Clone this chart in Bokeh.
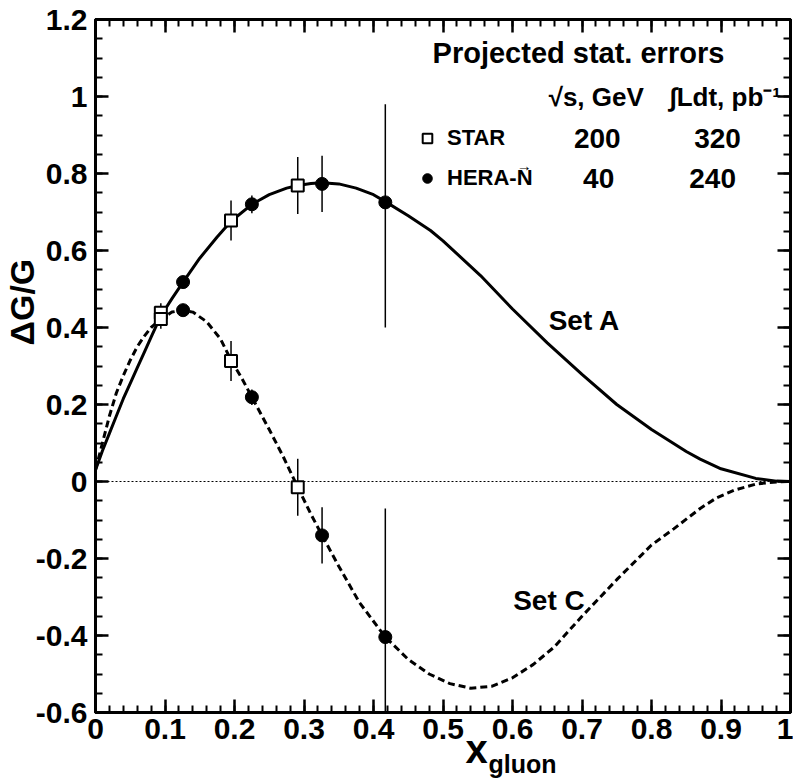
import numpy as np
from bokeh.plotting import figure
from bokeh.models import (FixedTicker, CustomJSTickFormatter, LinearAxis, Label,
                          Span, Legend, LegendItem, Title)
from bokeh.embed import file_html
from bokeh.resources import INLINE

# ---------------- data ----------------
set_a_x = [0, 0.01, 0.02, 0.03, 0.04, 0.05, 0.06, 0.07, 0.08, 0.094, 0.11, 0.126,
           0.15, 0.175, 0.195, 0.225, 0.25, 0.275, 0.291, 0.31, 0.326, 0.35, 0.375,
           0.4, 0.417, 0.45, 0.482, 0.5, 0.554, 0.6, 0.65, 0.7, 0.75, 0.8, 0.85,
           0.87, 0.9, 0.95, 0.98, 1.0]
set_a_y = [0.03, 0.08, 0.125, 0.17, 0.215, 0.255, 0.295, 0.335, 0.375, 0.43, 0.475, 0.518,
           0.58, 0.635, 0.676, 0.72, 0.745, 0.762, 0.769, 0.774, 0.776, 0.773, 0.762,
           0.745, 0.727, 0.69, 0.652, 0.625, 0.535, 0.448, 0.36, 0.278, 0.2, 0.135, 0.078,
           0.058, 0.033, 0.008, 0.001, 0.0]

set_c_x = [0, 0.01, 0.02, 0.03, 0.04, 0.05, 0.06, 0.07, 0.08, 0.094, 0.11, 0.126, 0.14,
           0.16, 0.18, 0.195, 0.21, 0.225, 0.25, 0.27, 0.291, 0.31, 0.326, 0.35, 0.38,
           0.417, 0.45, 0.48, 0.51, 0.54, 0.57, 0.6, 0.63, 0.66, 0.7, 0.75, 0.8, 0.832,
           0.87, 0.894, 0.92, 0.952, 0.98, 1.0]
set_c_y = [0.03, 0.1, 0.17, 0.23, 0.275, 0.315, 0.35, 0.377, 0.4, 0.422, 0.44, 0.445, 0.44,
           0.415, 0.37, 0.315, 0.27, 0.219, 0.135, 0.065, -0.015, -0.085, -0.14, -0.22, -0.315,
           -0.404, -0.462, -0.5, -0.525, -0.537, -0.532, -0.51, -0.475, -0.43, -0.35, -0.255,
           -0.165, -0.123, -0.07, -0.042, -0.022, -0.006, -0.001, 0.0]

star_x = [0.094, 0.195, 0.291]
star_a_y = [0.438, 0.678, 0.769]
star_c_y = [0.422, 0.313, -0.015]
star_err = [0.025, 0.052, 0.074]

hera_x = [0.126, 0.225, 0.326, 0.417]
hera_a_y = [0.518, 0.720, 0.773, 0.725]
hera_c_y = [0.445, 0.219, -0.140, -0.404]
hera_err_up = [0.01, 0.023, 0.073, 0.255]
hera_err_dn = [0.01, 0.023, 0.073, 0.325]
hera_c_err_up = [0.01, 0.02, 0.073, 0.334]
hera_c_err_dn = [0.01, 0.02, 0.073, 0.334]

x_ticks = [0, 0.1, 0.2, 0.3, 0.4, 0.5, 0.6, 0.7, 0.8, 0.9, 1.0]
y_ticks = [-0.6, -0.4, -0.2, 0, 0.2, 0.4, 0.6, 0.8, 1.0, 1.2]
x_minor = [round(i * 0.02, 2) for i in range(51)]
y_minor = [round(-0.6 + i * 0.05, 2) for i in range(37)]

FONT = "Liberation Sans"

# ---------------- figure ----------------
p = figure(width=793, height=782, x_range=(0, 1), y_range=(-0.6, 1.2),
           output_backend="svg", toolbar_location=None,
           min_border_left=95, min_border_right=3, min_border_top=19, min_border_bottom=70)
p.xaxis.visible = False
p.yaxis.visible = False
p.grid.visible = False
p.outline_line_color = "black"
p.outline_line_width = 3
p.background_fill_color = "white"
p.border_fill_color = "white"

fmt = CustomJSTickFormatter(code="return (Math.round(tick*10)/10).toString();")
blank = CustomJSTickFormatter(code="return '';")


def make_axis(ticks, minor, formatter, labelled):
    ax = LinearAxis(ticker=FixedTicker(ticks=ticks, minor_ticks=minor), formatter=formatter)
    ax.axis_line_width = 3
    ax.major_tick_line_width = 2.5
    ax.minor_tick_line_width = 2
    ax.major_tick_in = 13
    ax.major_tick_out = 0
    ax.minor_tick_in = 7
    ax.minor_tick_out = 0
    ax.major_label_text_font = FONT
    ax.major_label_text_font_style = "bold"
    ax.major_label_text_font_size = "30px"
    ax.major_label_text_color = "black"
    if not labelled:
        ax.major_label_standoff = 0
        ax.major_label_text_font_size = "1px"
    return ax


xax = make_axis(x_ticks, x_minor, fmt, True)
xax.major_label_standoff = 6
p.add_layout(xax, "below")

yax = make_axis(y_ticks, y_minor, fmt, True)
yax.major_label_standoff = 8
p.add_layout(yax, "left")

p.add_layout(make_axis(x_ticks, x_minor, blank, False), "above")
p.add_layout(make_axis(y_ticks, y_minor, blank, False), "right")


def title(text, size, place, align, offset, standoff):
    t = Title(text=text, text_font=FONT, text_font_style="bold", text_font_size=size,
              text_color="black", align=align, offset=offset, standoff=standoff,
              vertical_align="middle")
    p.add_layout(t, place)


# axis titles (x with subscript "gluon")
title("\u0394G/G", "34px", "left", "left", 367, -19)
title("x", "40px", "below", "left", 370, -31)
title("gluon", "25px", "below", "left", 393, -16)

# zero line
p.add_layout(Span(location=0, dimension="width", line_color="black",
                  line_width=1, line_dash="2 2"))

# curves
p.line(set_a_x, set_a_y, line_color="black", line_width=3)
p.line(set_c_x, set_c_y, line_color="black", line_width=3, line_dash="7 4")

# error bars
sx = np.array(star_x)
se = np.array(star_err)
p.segment(sx, np.array(star_a_y) - se, sx, np.array(star_a_y) + se, line_color="black", line_width=1.5)
p.segment(sx, np.array(star_c_y) - se, sx, np.array(star_c_y) + se, line_color="black", line_width=1.5)
hx = np.array(hera_x)
p.segment(hx, np.array(hera_a_y) - np.array(hera_err_dn), hx, np.array(hera_a_y) + np.array(hera_err_up),
          line_color="black", line_width=1.5)
p.segment(hx, np.array(hera_c_y) - np.array(hera_c_err_dn), hx, np.array(hera_c_y) + np.array(hera_c_err_up),
          line_color="black", line_width=1.5)

# markers
star_r = p.scatter(star_x, star_a_y, marker="square", size=12, fill_color="white",
                   line_color="black", line_width=2)
p.scatter(star_x, star_c_y, marker="square", size=12, fill_color="white",
          line_color="black", line_width=2)
hera_r = p.scatter(hera_x, hera_a_y, marker="circle", size=13, fill_color="black", line_color="black")
p.scatter(hera_x, hera_c_y, marker="circle", size=13, fill_color="black", line_color="black")

legend = Legend(items=[LegendItem(label="STAR", renderers=[star_r]),
                       LegendItem(label="HERA-N", renderers=[hera_r])],
                location=(320, 521), padding=0, margin=0, spacing=14,
                glyph_width=24, glyph_height=26, label_height=26, label_standoff=8,
                label_text_font=FONT, label_text_font_style="bold", label_text_font_size="22px",
                label_text_color="black",
                background_fill_alpha=0, border_line_alpha=0)
p.add_layout(legend)


def lab(x, y, text, size, align="left", baseline="middle"):
    p.add_layout(Label(x=x, y=y, text=text, text_font=FONT, text_font_style="bold",
                       text_font_size=size, text_align=align, text_baseline=baseline,
                       text_color="black"))


lab(0.485, 1.114, "Projected stat. errors", "29px")
lab(0.652, 1.0, "\u221as, GeV", "26px")
lab(0.826, 1.0, "\u222bLdt, pb\u207b\u00b9", "26px")
lab(0.722, 0.891, "200", "28px", align="center")
lab(0.895, 0.891, "320", "28px", align="center")
lab(0.724, 0.787, "40", "28px", align="center")
lab(0.888, 0.787, "240", "28px", align="center")
lab(0.617, 0.822, "\u2192", "15px", align="center")
lab(0.652, 0.418, "Set A", "28px")
lab(0.601, -0.309, "Set C", "28px")

open("out.html", "w").write(file_html(p, INLINE))
